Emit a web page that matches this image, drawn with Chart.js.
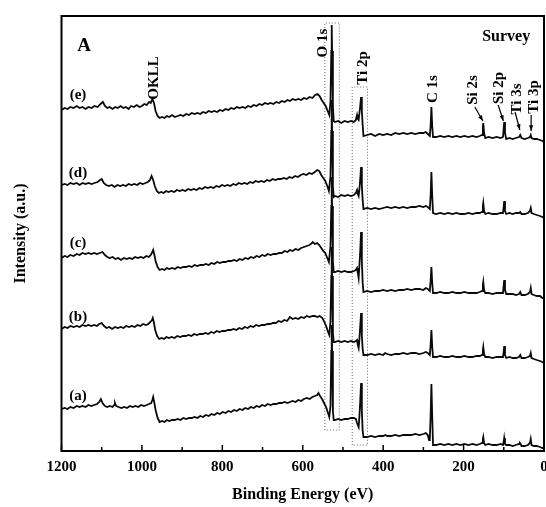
<!DOCTYPE html>
<html>
<head>
<meta charset="utf-8">
<script src="https://cdn.jsdelivr.net/npm/chart.js@4"></script>
<style>
  html, body { margin: 0; padding: 0; background: #fff; }
  #wrap { width: 546px; height: 507px; }
</style>
</head>
<body>
<div id="wrap"><canvas id="c" width="546" height="507"></canvas></div>
<script>
// binding energy (eV) / intensity (a.u., offset per spectrum)
const traceE = [[1200,341],[1192,343],[1185,342],[1178,344],[1170,343],[1162,345],[1155,343],[1148,344],[1140,342],[1133,344],[1125,343],[1118,345],[1110,344],[1103,347],[1097,349],[1092,345],[1086,343],[1080,344],[1073,342],[1066,344],[1060,343],[1053,345],[1046,343],[1040,344],[1033,342],[1027,345],[1020,344],[1013,346],[1006,344],[1000,345],[994,347],[988,346],[982,349],[978,348],[974,352],[970,348],[966,340],[961,335],[956,333],[950,334],[944,333],[938,335],[932,334],[925,336],[918,334],[911,335],[904,336],[897,335],[890,337],[883,336],[876,338],[869,337],[862,338],[855,337],[848,339],[841,338],[834,340],[827,339],[820,340],[813,339],[806,341],[799,340],[792,342],[785,341],[778,343],[771,342],[764,344],[757,343],[750,344],[743,343],[736,345],[729,344],[722,346],[715,345],[708,347],[701,346],[694,348],[687,347],[680,348],[673,347],[666,349],[659,348],[652,350],[645,349],[638,351],[632,350],[625,352],[618,351],[611,352],[604,351],[597,353],[590,352],[583,354],[576,353],[569,356],[563,357],[558,355],[553,351],[548,348],[543,345],[538,340],[534,336],[531,350],[529,400],[528,426],[527,400],[525,345],[523,330],[520,329],[512,330],[504,328],[496,330],[488,329],[480,330],[473,329],[468,331],[465,336],[463,332],[461,331],[459,338],[457,345],[455,354],[453,340],[451,326],[449,315],[440,316],[430,317],[420,315],[410,317],[400,316],[390,317],[380,316],[370,318],[360,317],[350,318],[340,317],[330,318],[320,317],[310,318],[300,318],[294,319],[289,317],[284,315],[282,325],[280,344],[278,325],[276,314],[268,314],[258,315],[248,314],[238,315],[228,314],[218,315],[208,314],[198,315],[188,314],[178,315],[168,314],[160,315],[154,316],[152,324],[151,328],[149,318],[146,313],[138,314],[128,313],[118,314],[108,313],[102,314],[100,324],[99,329],[97,318],[94,312],[86,313],[78,312],[70,313],[62,314],[59,316],[56,313],[48,312],[40,313],[35,314],[33,316],[31,313],[25,312],[18,312],[10,311],[4,310],[0,309]];

const traceD = [[1200,266],[1192,267],[1185,266],[1178,268],[1170,267],[1162,268],[1155,266],[1148,268],[1140,267],[1133,268],[1125,267],[1118,268],[1110,269],[1104,271],[1100,272],[1095,268],[1089,266],[1082,265],[1075,266],[1068,264],[1061,266],[1054,265],[1047,266],[1040,265],[1033,267],[1026,266],[1019,267],[1012,266],[1005,268],[998,267],[991,268],[985,269],[980,271],[976,275],[972,271],[968,265],[963,260],[958,258],[952,259],[946,258],[940,260],[934,259],[927,260],[920,259],[913,261],[906,260],[899,261],[892,260],[885,262],[878,261],[871,262],[864,261],[857,263],[850,262],[843,264],[836,263],[829,264],[822,263],[815,265],[808,264],[801,266],[794,265],[787,266],[780,265],[773,267],[766,266],[759,268],[752,267],[745,268],[738,267],[731,269],[724,268],[717,270],[710,269],[703,270],[696,269],[689,271],[682,270],[675,272],[668,271],[661,272],[654,272],[647,273],[640,272],[633,274],[626,273],[619,275],[612,274],[605,276],[598,277],[591,276],[584,278],[577,277],[570,279],[564,281],[559,280],[554,276],[549,273],[544,270],[539,265],[535,260],[531,275],[529,320],[528,351],[527,320],[525,265],[523,254],[520,255],[512,254],[504,256],[496,255],[488,256],[480,255],[473,256],[468,258],[465,261],[463,257],[461,255],[459,262],[457,272],[455,284],[453,265],[451,251],[449,242],[440,243],[430,242],[420,243],[410,242],[400,243],[390,244],[380,243],[370,244],[360,243],[350,244],[340,243],[330,244],[320,244],[310,245],[300,244],[294,245],[289,244],[284,242],[282,255],[280,279],[278,255],[276,238],[268,237],[258,238],[248,237],[238,238],[228,237],[218,238],[208,237],[198,237],[188,238],[178,237],[168,238],[160,238],[154,239],[152,245],[151,248],[149,240],[146,237],[138,238],[128,237],[118,237],[108,238],[102,238],[100,245],[99,250],[97,240],[94,237],[86,238],[78,237],[70,238],[62,238],[59,239],[56,237],[48,237],[40,238],[35,240],[33,243],[31,238],[25,237],[18,236],[10,235],[4,234],[0,233]];

const traceC = [[1200,193],[1192,195],[1185,194],[1178,196],[1170,195],[1162,197],[1155,196],[1148,198],[1140,197],[1133,198],[1126,197],[1119,198],[1112,197],[1105,198],[1098,199],[1092,196],[1086,194],[1080,193],[1073,194],[1066,192],[1059,193],[1052,191],[1045,193],[1038,192],[1031,193],[1024,192],[1017,194],[1010,193],[1003,194],[996,193],[989,195],[983,194],[978,196],[974,199],[972,201],[969,196],[966,190],[961,184],[956,181],[950,182],[944,181],[938,183],[932,182],[925,183],[918,182],[911,184],[904,183],[897,184],[890,184],[883,185],[876,184],[869,186],[862,185],[855,186],[848,186],[841,187],[834,186],[827,188],[820,187],[813,189],[806,188],[799,189],[792,189],[785,190],[778,190],[771,191],[764,190],[757,192],[750,191],[743,193],[736,192],[729,194],[722,193],[715,195],[708,194],[701,196],[694,195],[687,197],[680,196],[673,197],[666,197],[659,198],[652,198],[645,200],[638,199],[632,201],[625,200],[618,202],[611,201],[604,203],[597,204],[590,205],[583,206],[577,208],[575,209],[570,207],[564,208],[559,206],[554,203],[549,200],[544,198],[539,193],[535,189],[531,205],[529,245],[528,274],[527,245],[525,190],[523,179],[520,179],[512,180],[504,179],[496,180],[488,179],[480,179],[473,180],[468,181],[465,183],[463,178],[461,173],[459,186],[457,200],[455,219],[453,190],[451,168],[449,159],[440,160],[430,159],[420,160],[410,160],[400,161],[390,160],[380,161],[370,160],[360,161],[350,161],[340,162],[330,161],[320,162],[310,162],[300,161],[294,163],[289,162],[284,160],[282,170],[280,184],[278,168],[276,158],[268,158],[258,159],[248,158],[238,158],[228,159],[218,158],[208,158],[198,159],[188,158],[178,158],[168,158],[160,159],[154,160],[152,166],[151,169],[149,161],[146,158],[138,158],[128,157],[118,158],[108,158],[102,158],[100,166],[99,171],[97,161],[94,157],[86,157],[78,157],[70,156],[62,157],[59,159],[56,156],[48,156],[40,157],[35,159],[33,163],[31,157],[25,156],[18,155],[10,155],[4,153],[0,153]];

const traceB = [[1200,122],[1192,124],[1185,123],[1178,125],[1170,124],[1162,125],[1155,124],[1148,126],[1140,125],[1133,126],[1126,125],[1119,126],[1112,125],[1106,127],[1100,128],[1094,125],[1088,123],[1081,124],[1074,122],[1067,124],[1060,123],[1053,124],[1046,123],[1039,125],[1032,124],[1025,125],[1018,124],[1011,126],[1004,125],[997,127],[990,126],[984,127],[979,129],[975,131],[973,133],[970,128],[967,121],[962,115],[957,112],[951,113],[945,112],[939,114],[933,113],[926,114],[919,113],[912,115],[905,114],[898,115],[891,115],[884,116],[877,115],[870,117],[863,116],[856,117],[849,117],[842,118],[835,117],[828,119],[821,118],[814,120],[807,119],[800,120],[793,120],[786,121],[779,121],[772,122],[765,121],[758,123],[751,122],[744,124],[737,123],[730,125],[723,124],[716,126],[709,125],[702,126],[695,126],[688,127],[681,127],[674,128],[667,128],[660,130],[653,129],[646,131],[639,130],[632,134],[625,132],[618,133],[611,132],[604,134],[597,133],[590,135],[583,134],[576,135],[570,135],[564,134],[558,135],[551,133],[546,129],[541,124],[537,119],[534,116],[531,130],[529,175],[528,204],[527,175],[525,118],[523,109],[520,109],[512,110],[504,109],[496,110],[488,109],[480,110],[473,109],[468,110],[465,111],[463,106],[461,103],[459,112],[457,125],[455,138],[453,115],[451,102],[449,96],[440,96],[430,97],[420,96],[410,97],[400,96],[395,98],[390,97],[380,96],[370,97],[360,97],[350,98],[340,97],[330,98],[320,98],[310,97],[300,98],[294,99],[289,98],[284,96],[282,106],[280,121],[278,104],[276,94],[268,94],[258,95],[248,94],[238,94],[228,95],[218,94],[208,94],[198,95],[188,94],[178,94],[168,95],[160,95],[154,96],[152,101],[151,104],[149,97],[146,94],[138,94],[128,93],[118,94],[108,94],[102,94],[100,100],[99,105],[97,96],[94,93],[86,94],[78,93],[70,93],[62,94],[59,96],[56,93],[48,93],[40,94],[35,95],[33,98],[31,93],[25,92],[18,91],[10,90],[4,89],[0,88]];

const traceA = [[1200,42],[1192,43],[1185,42],[1178,44],[1170,43],[1162,45],[1155,44],[1148,45],[1140,44],[1133,46],[1126,45],[1119,46],[1112,47],[1106,49],[1102,52],[1098,48],[1092,45],[1086,44],[1080,45],[1073,44],[1069,46],[1067,48],[1064,45],[1058,44],[1051,43],[1044,44],[1037,43],[1030,45],[1023,44],[1016,45],[1009,44],[1002,46],[995,45],[988,46],[982,47],[977,48],[974,51],[972,54],[969,48],[966,41],[961,33],[956,29],[950,30],[944,29],[938,31],[932,30],[925,31],[918,31],[911,32],[904,31],[897,33],[890,32],[883,33],[876,33],[869,34],[862,33],[855,35],[848,34],[841,36],[834,35],[827,37],[820,36],[813,38],[806,37],[799,39],[792,38],[785,40],[778,39],[771,41],[764,40],[757,42],[750,41],[743,43],[736,42],[729,44],[722,43],[715,45],[708,44],[701,46],[694,45],[687,47],[680,46],[673,47],[666,47],[659,48],[652,48],[645,49],[638,48],[632,49],[625,50],[618,49],[611,51],[604,50],[597,52],[590,53],[583,52],[576,54],[570,55],[564,56],[561,58],[557,55],[552,52],[547,48],[542,44],[538,39],[534,34],[531,45],[529,100],[528,126],[527,100],[525,40],[523,31],[520,31],[512,32],[504,31],[496,32],[488,32],[480,33],[473,33],[468,32],[465,28],[463,26],[461,24],[459,35],[457,50],[455,68],[453,40],[451,20],[449,14],[440,14],[430,15],[420,14],[410,15],[400,15],[395,16],[390,15],[380,15],[370,16],[360,15],[350,16],[340,16],[330,16],[320,17],[310,16],[300,17],[294,18],[289,16],[286,11],[284,12],[282,35],[280,67],[278,35],[276,6],[268,6],[258,7],[248,6],[238,7],[228,6],[218,7],[208,6],[198,7],[188,6],[178,7],[168,6],[160,7],[154,8],[152,12],[151,14],[149,8],[146,6],[138,7],[128,6],[118,6],[108,7],[102,6],[100,10],[99,13],[97,7],[94,6],[86,6],[78,5],[70,6],[62,7],[60,8],[58,7],[56,5],[48,5],[40,6],[35,8],[33,12],[31,6],[25,5],[18,5],[10,4],[4,3],[0,3]];

const traceNames = ['(a)', '(b)', '(c)', '(d)', '(e)'];
const traceNameY = [55, 134, 208, 278, 356];

const majorTicks = [0, 200, 400, 600, 800, 1000, 1200];
const minorTicks = [100, 300, 500, 700, 900, 1100];

// dotted boxes: [high eV, low eV, bottom, top]
const o1sBox = [545, 509, 21, 428];
const ti2pBox = [477, 439, 6, 364];

// peak labels (rotated) and arrows
const peakNames = ['OKLL', 'O 1s', 'Ti 2p', 'C 1s', 'Si 2s', 'Si 2p', 'Ti 3s', 'Ti 3p'];
const peakLabelAt = [[971, 373], [552, 408], [453, 383], [279, 362], [180, 361], [114, 363], [70, 352], [28, 354]];
const arrows = [[[172, 344], [152, 330]], [[114, 346], [101, 330]], [[72, 339], [60, 321]], [[32, 336], [32, 320]]];

const SERIF = '"Liberation Serif", "Times New Roman", serif';

function boxPath(b) {
  return [[b[0], b[2]], [b[0], b[3]], [b[1], b[3]], [b[1], b[2]], [b[0], b[2]]];
}

const lineStyle = { borderColor: '#0a0a0a', borderWidth: 1.8, pointRadius: 0, tension: 0, fill: false };
const boxStyle = { borderColor: '#666', borderWidth: 1, borderDash: [1, 2], pointRadius: 0, tension: 0, fill: false };

const annot = {
  id: 'annot',
  afterDraw(chart) {
    const { ctx, chartArea: a, scales: { x, y } } = chart;
    ctx.save();
    ctx.strokeStyle = '#000';
    ctx.fillStyle = '#000';

    // frame
    ctx.lineWidth = 2;
    ctx.strokeRect(a.left, a.top, a.right - a.left, a.bottom - a.top);

    // inward ticks
    ctx.lineWidth = 1.5;
    majorTicks.concat(minorTicks).forEach(v => {
      const px = x.getPixelForValue(v);
      const len = majorTicks.includes(v) ? 6 : 4;
      ctx.beginPath();
      ctx.moveTo(px, a.bottom);
      ctx.lineTo(px, a.bottom - len);
      ctx.stroke();
    });

    // panel letter and title
    ctx.textBaseline = 'middle';
    ctx.textAlign = 'center';
    ctx.font = 'bold 19px ' + SERIF;
    ctx.fillText('A', x.getPixelForValue(1144), y.getPixelForValue(405));
    ctx.font = 'bold 16px ' + SERIF;
    ctx.fillText('Survey', x.getPixelForValue(94), y.getPixelForValue(414));

    // spectrum names
    ctx.font = 'bold 15px ' + SERIF;
    traceNames.forEach((t, i) => {
      ctx.fillText(t, x.getPixelForValue(1159), y.getPixelForValue(traceNameY[i]));
    });

    // rotated peak names
    ctx.font = 'bold 15px ' + SERIF;
    peakNames.forEach((t, i) => {
      const [e, h] = peakLabelAt[i];
      ctx.save();
      ctx.translate(x.getPixelForValue(e), y.getPixelForValue(h));
      ctx.rotate(-Math.PI / 2);
      ctx.fillText(t, 0, 1);
      ctx.restore();
    });

    // arrows
    ctx.lineWidth = 1.2;
    arrows.forEach(([p0, p1]) => {
      const x0 = x.getPixelForValue(p0[0]), y0 = y.getPixelForValue(p0[1]);
      const x1 = x.getPixelForValue(p1[0]), y1 = y.getPixelForValue(p1[1]);
      const ang = Math.atan2(y1 - y0, x1 - x0);
      ctx.beginPath();
      ctx.moveTo(x0, y0);
      ctx.lineTo(x1, y1);
      ctx.stroke();
      ctx.beginPath();
      ctx.moveTo(x1, y1);
      ctx.lineTo(x1 - 6 * Math.cos(ang - 0.35), y1 - 6 * Math.sin(ang - 0.35));
      ctx.lineTo(x1 - 6 * Math.cos(ang + 0.35), y1 - 6 * Math.sin(ang + 0.35));
      ctx.closePath();
      ctx.fill();
    });
    ctx.restore();
  }
};

new Chart(document.getElementById('c'), {
  type: 'line',
  data: {
    datasets: [
      { data: traceE, ...lineStyle },
      { data: traceD, ...lineStyle },
      { data: traceC, ...lineStyle },
      { data: traceB, ...lineStyle },
      { data: traceA, ...lineStyle },
      { data: boxPath(o1sBox), ...boxStyle },
      { data: boxPath(ti2pBox), ...boxStyle },
    ]
  },
  options: {
    responsive: false,
    animation: false,
    layout: { padding: { top: 16, right: 2, left: 0, bottom: 0 } },
    plugins: { legend: { display: false }, tooltip: { enabled: false } },
    scales: {
      x: {
        type: 'linear',
        min: 0,
        max: 1200,
        reverse: true,
        afterBuildTicks: s => { s.ticks = majorTicks.concat(minorTicks).sort((p, q) => p - q).map(v => ({ value: v })); },
        afterFit: s => { s.height = 56; },
        grid: { display: false, drawTicks: false },
        border: { display: false },
        ticks: {
          autoSkip: false,
          maxRotation: 0,
          padding: 7,
          color: '#000',
          font: { family: SERIF, size: 15, weight: 'bold' },
          callback: v => majorTicks.includes(v) ? String(v) : ''
        },
        title: {
          display: true,
          text: 'Binding Energy (eV)',
          color: '#000',
          padding: { top: 0, bottom: 3 },
          font: { family: SERIF, size: 16, weight: 'bold' }
        }
      },
      y: {
        type: 'linear',
        min: 0,
        max: 435,
        afterFit: s => { s.width = 61.5; },
        grid: { display: false, drawTicks: false },
        border: { display: false },
        ticks: { display: false },
        title: {
          display: true,
          text: 'Intensity (a.u.)',
          color: '#000',
          padding: { top: 11, bottom: 0 },
          font: { family: SERIF, size: 16, weight: 'bold' }
        }
      }
    }
  },
  plugins: [annot]
});
</script>
</body>
</html>
